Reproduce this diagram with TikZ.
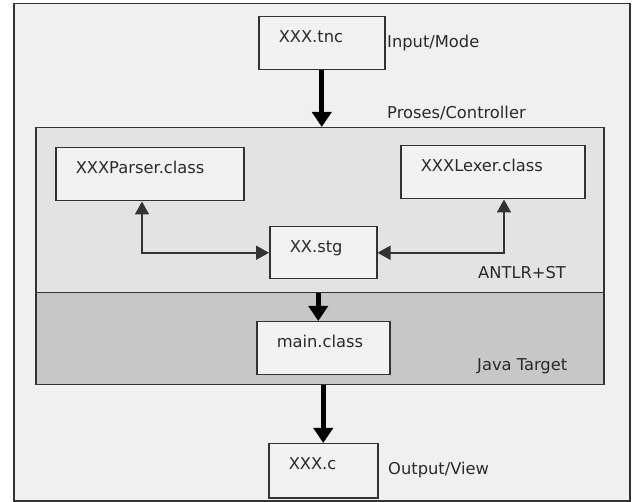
\documentclass[tikz,border=0pt]{standalone}
\usepackage{fontspec}
\setmainfont{DejaVu Sans}
\usetikzlibrary{arrows.meta,calc}
\definecolor{frameback}{HTML}{F0F0F0}
\definecolor{antlrback}{HTML}{E3E3E3}
\definecolor{javaback}{HTML}{C7C7C7}
\definecolor{boxback}{HTML}{F2F2F2}
\definecolor{edge}{HTML}{333333}
\definecolor{ink}{HTML}{2A2A2A}

\begin{document}
\begin{tikzpicture}[x=1pt, y=-1pt, font=\fontsize{16.3}{19}\selectfont, text=ink,
    region/.style={draw=edge, line width=1.5pt, anchor=north west, inner sep=0pt},
    file/.style={draw=edge, line width=1.5pt, fill=boxback, anchor=north west,
        inner xsep=20pt, inner ysep=0pt, align=left, text height=26pt},
    note/.style={anchor=base west, inner sep=0pt},
    bigarrow/.style={-{Triangle[length=15pt,width=19pt]}, line width=5pt, draw=black},
    link/.style={{Triangle[length=13pt,width=14pt]}-{Triangle[length=13pt,width=14pt]},
        line width=1.7pt, draw=edge}]
    \useasboundingbox[fill=white] (0,0) rectangle (632,502);

    % Layers
    \node[region, fill=frameback, minimum width=616pt, minimum height=497pt] (frame) at (13,3) {};
    \node[region, fill=antlrback, minimum width=568pt, minimum height=165pt] (ctrl) at (35,127) {};
    \node[region, fill=javaback, minimum width=568pt, minimum height=92pt] (java) at (35,292) {};

    % Files
    \node[file, text width=86pt, text depth=27pt] (tnc) at (258,16) {XXX.tnc};
    \node[file, text width=148pt, text depth=27pt] (parser) at (55,147) {XXXParser.class};
    \node[file, text width=144pt, text depth=27pt] (lexer) at (400,145) {XXXLexer.class};
    \node[file, text width=67pt, text depth=26pt] (stg) at (269,226) {XX.stg};
    \node[file, text width=93pt, text depth=27pt] (main) at (256,321) {main.class};
    \node[file, text width=69pt, text depth=28pt] (xxxc) at (268,443) {XXX.c};

    % Flow
    \draw[bigarrow] (tnc.south) -- (tnc.south |- ctrl.north);
    \draw[bigarrow] ([xshift=-5pt]stg.south |- ctrl.south) -- ([xshift=-5pt]stg.south |- main.north);
    \draw[bigarrow] (main.south |- java.south) -- (xxxc.north);

    % Links to XX.stg
    \coordinate (pk) at (142,0);
    \coordinate (lk) at (504,0);
    \draw[link] (parser.south -| pk) |- (stg.west);
    \draw[link] (lexer.south -| lk) |- (stg.east);

    % Layer names
    \node[note] (inlbl) at (387,48) {Input/Mode};
    \node[note] (ctlbl) at (387,119) {Proses/Controller};
    \node[note] (stlbl) at (478,279) {ANTLR+ST};
    \node[note] (jvlbl) at (477,371) {Java Target};
    \node[note] (outlbl) at (388,475) {Output/View};
\end{tikzpicture}
\end{document}
